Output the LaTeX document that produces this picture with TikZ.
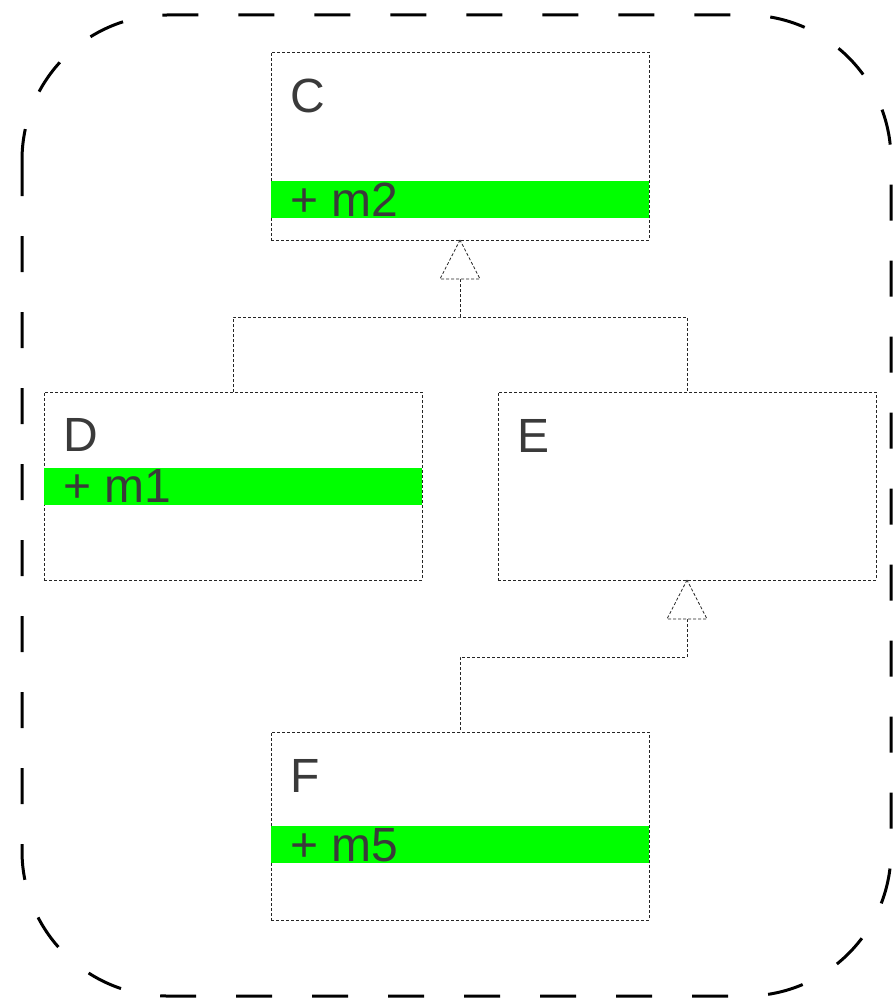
\documentclass[tikz,border=0pt]{standalone}
\usepackage{fontspec}
\setmainfont{Liberation Sans}
\definecolor{txt}{HTML}{3A3A3A}
\definecolor{band}{HTML}{00FF00}
\tikzset{
  classbox/.style={draw=black!85, dash pattern=on 3pt off 2pt, line width=0.8pt,
    minimum width=378pt, minimum height=188pt, inner sep=0pt, outer sep=0pt, anchor=north west},
  bandbox/.style={fill=band, minimum width=378pt, minimum height=37pt, inner sep=0pt,
    outer sep=0pt, anchor=north west},
  lbl/.style={font=\fontsize{48}{48}\selectfont, text=txt, anchor=base west, inner sep=0pt},
  inherit/.style={draw=black!85, dash pattern=on 3pt off 2pt, line width=0.8pt},
  frame/.style={draw=black, line width=3pt, dash pattern=on 36pt off 40pt, rounded corners=145pt}
}
\begin{document}
\begin{tikzpicture}[x=1pt, y=-1pt]
  \useasboundingbox (0,0) rectangle (894,998);

  % package frame
  \draw[frame] (22,15) rectangle (891,996);

  % class boxes
  \node[classbox] (C) at (271,52) {};
  \node[classbox] (D) at (44,392) {};
  \node[classbox] (E) at (498,392) {};
  \node[classbox] (F) at (271,732) {};

  % highlighted operation rows
  \node[bandbox] (Cb) at (271,181) {};
  \node[bandbox] (Db) at (44,468) {};
  \node[bandbox] (Fb) at (271,826) {};

  % class names and operations
  \node[lbl] (Cn) at (290,112) {C};
  \node[lbl] (Cm) at (290,216) {+ m2};
  \node[lbl] (Dn) at (63,451) {D};
  \node[lbl] (Dm) at (63,502) {+ m1};
  \node[lbl] (En) at (517,452) {E};
  \node[lbl] (Fn) at (290,792) {F};
  \node[lbl] (Fm) at (290,861) {+ m5};

  % generalisation D, E -> C
  \coordinate (j1) at (460,317);
  \draw[inherit] (D.north) |- (j1) -| (E.north);
  \draw[inherit] (j1) -- ([yshift=-39pt]C.south);
  \draw[inherit, fill=white] (C.south) -- ++(-20,39) -- ++(40,0) -- cycle;

  % generalisation F -> E
  \coordinate (j2) at (460,657);
  \draw[inherit] ([yshift=-39pt]E.south) |- (j2) -- (F.north);
  \draw[inherit, fill=white] (E.south) -- ++(-20,39) -- ++(40,0) -- cycle;
\end{tikzpicture}
\end{document}
